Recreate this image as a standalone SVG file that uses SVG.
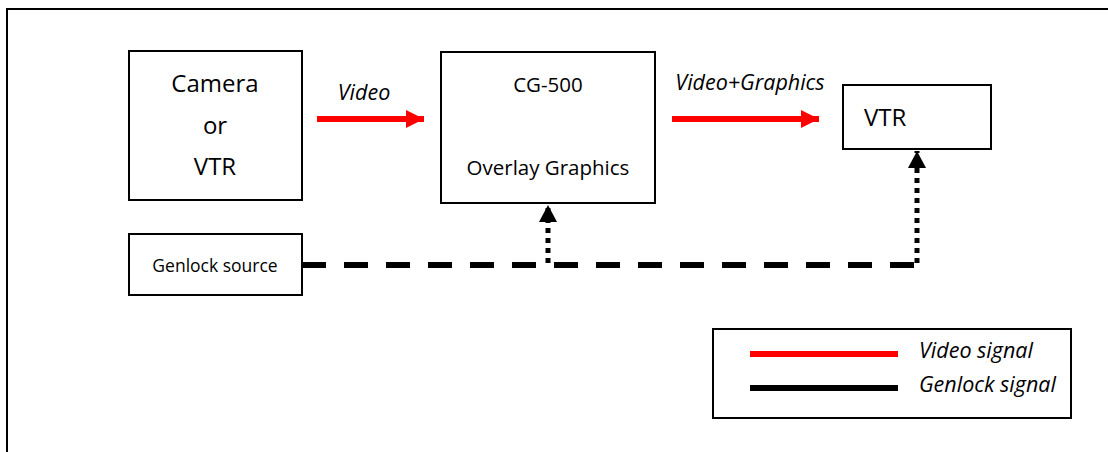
<svg xmlns="http://www.w3.org/2000/svg" width="1108" height="452" viewBox="0 0 1108 452">
<style>
.box{fill:#fff;stroke:#000;stroke-width:2}
.t{font-family:"Open Sans","Liberation Sans",sans-serif;fill:#000}
.i{font-style:italic}
.video{stroke:#ff0000;stroke-width:6;fill:none}
.dash{stroke:#000;stroke-width:6;stroke-dasharray:24 18;fill:none}
.dot{stroke:#000;stroke-width:5;stroke-dasharray:5 5;fill:none}
</style>
<defs>
<marker id="ra" markerUnits="userSpaceOnUse" markerWidth="18" markerHeight="18" refX="18" refY="9" orient="auto"><path d="M0,0 L18,9 L0,18 Z" fill="#ff0000"/></marker>
<marker id="ka" markerUnits="userSpaceOnUse" markerWidth="18" markerHeight="18" refX="17" refY="9" orient="auto"><path d="M0,0 L17,9 L0,18 Z" fill="#000"/></marker>
</defs>
<rect x="0" y="0" width="1108" height="452" fill="#fff"/>
<path d="M7,460 V9 H1120" fill="none" stroke="#000" stroke-width="2"/>
<g id="camera"><rect class="box" x="129" y="51" width="173" height="149"/>
<text class="t" x="215" y="92" font-size="24" text-anchor="middle">Camera</text>
<text class="t" x="215" y="134" font-size="24" text-anchor="middle">or</text>
<text class="t" x="215" y="175" font-size="24" text-anchor="middle">VTR</text></g>
<g id="genlock"><rect class="box" x="129" y="234" width="173" height="61"/>
<text class="t" x="215" y="272" font-size="17.5" text-anchor="middle">Genlock source</text></g>
<g id="cg500"><rect class="box" x="441" y="52" width="214" height="151"/>
<text class="t" x="548" y="92" font-size="20.5" text-anchor="middle">CG-500</text>
<text class="t" x="548" y="175" font-size="20.5" text-anchor="middle">Overlay Graphics</text></g>
<g id="vtr"><rect class="box" x="843" y="85" width="148" height="64"/>
<text class="t" x="864" y="126" font-size="24">VTR</text></g>
<g id="connectors">
<path class="video" d="M317,119 H424" marker-end="url(#ra)"/>
<path class="video" d="M672,119 H819" marker-end="url(#ra)"/>
<path class="dash" d="M302,265 H914"/>
<path class="dot" d="M548,263 V205" marker-end="url(#ka)"/>
<path class="dot" d="M917,263 V151" marker-end="url(#ka)"/>
<text class="t i" x="364" y="100" font-size="21.5" text-anchor="middle">Video</text>
<text class="t i" x="750" y="90" font-size="21.5" text-anchor="middle">Video+Graphics</text>
</g>
<g id="legend"><rect class="box" x="713" y="329" width="358" height="89"/>
<path d="M750,354 H898" stroke="#ff0000" stroke-width="6"/>
<path d="M750,388 H898" stroke="#000" stroke-width="6"/>
<text class="t i" x="919" y="358" font-size="21.5">Video signal</text>
<text class="t i" x="919" y="392" font-size="21.5">Genlock signal</text></g>
</svg>
